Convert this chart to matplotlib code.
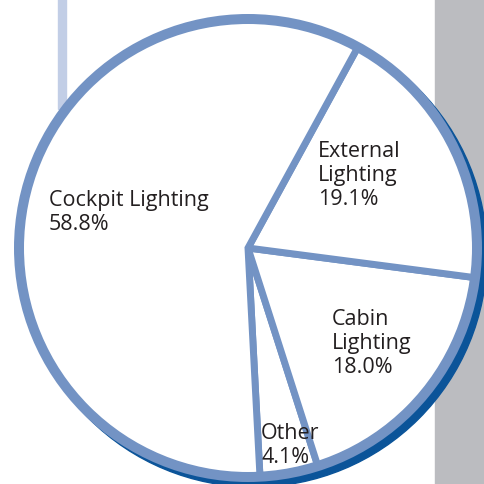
import matplotlib
matplotlib.use("Agg")
import matplotlib.pyplot as plt
from matplotlib.patches import Circle, Rectangle

# share of lighting energy by area
labels = ["Other", "Cabin\nLighting", "External\nLighting", "Cockpit Lighting"]
shares = [4.1, 18.0, 19.1, 58.8]
label_xy = [(261, 423), (332, 309), (318, 141), (49, 190)]   # top-left of each label, px

W, H = 484, 485
EDGE = "#7393c4"
SHADOW = "#0b5499"

fig = plt.figure(figsize=(W / 100, H / 100), dpi=100)
ax = fig.add_axes([0, 0, 1, 1])

cx, cy, r = 248, H - 249, 229

# background strips
ax.add_patch(Rectangle((435, 0), W - 435, H, color="#bbbcc0", zorder=0))
ax.add_patch(Rectangle((58, H - 110), 8, 110, color="#c2cee6", zorder=0))

# offset shadow behind the pie
ax.add_patch(Circle((cx + 6, cy - 6), r + 4, color=SHADOW, zorder=1))

wedges, _ = ax.pie(shares, startangle=-87, counterclock=True, center=(cx, cy), radius=r,
                   colors=["white"] * 4, wedgeprops=dict(edgecolor=EDGE, linewidth=5,
                                                         joinstyle="miter"))
for w in wedges:
    w.set_zorder(2)
# heavier rim
ax.add_patch(Circle((cx, cy), r, fill=False, edgecolor=EDGE, linewidth=7.2, zorder=3))

for (x, y), lab, v in zip(label_xy, labels, shares):
    ax.text(x, H - y, f"{lab}\n{v:.1f}%", ha="left", va="top", fontsize=15.5,
            family="Open Sans", color="#231f20", linespacing=1.2, zorder=4)

ax.set_xlim(0, W)
ax.set_ylim(0, H)
ax.set_aspect("auto")
ax.axis("off")
fig.savefig("out.png", dpi=100)
